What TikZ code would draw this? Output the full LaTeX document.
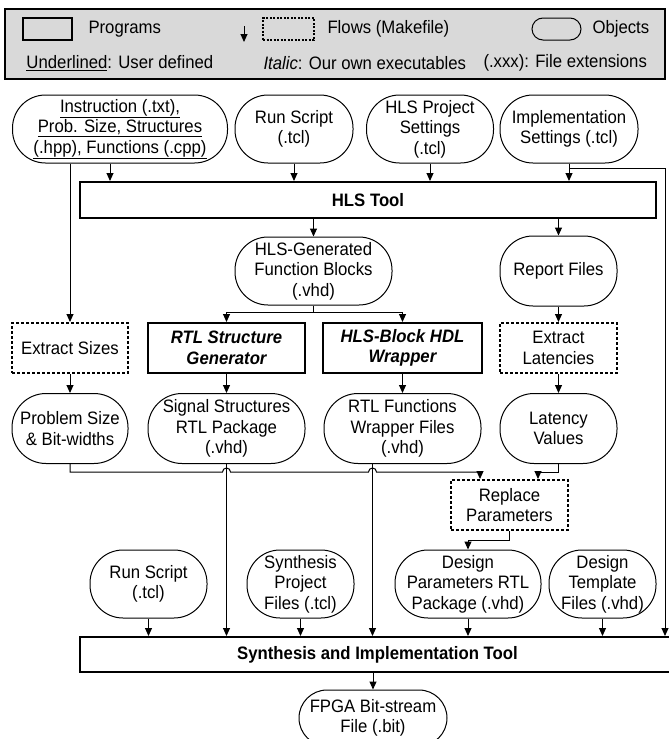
\documentclass[tikz,border=0pt]{standalone}
\usepackage{fontspec}
\setmainfont{Liberation Sans}[FakeStretch=0.93]
\usetikzlibrary{positioning, arrows.meta}

\begin{document}
\begin{tikzpicture}[x=1pt, y=1pt, line width=1pt,
    >={Triangle[length=8pt, width=7pt]},
    font=\fontsize{18}{20.6}\selectfont,
    obj/.style={draw, rounded corners=33pt, minimum height=68pt, inner sep=0pt, align=center},
    prog/.style={draw, line width=2pt, minimum height=50pt, inner sep=0pt, align=center,
        font=\fontsize{18}{20.6}\selectfont\bfseries\itshape},
    flow/.style={draw, line width=2pt, dash pattern=on 3pt off 2pt, minimum height=50pt,
        inner sep=0pt, align=center},
    tool/.style={draw, line width=2pt, inner sep=0pt, font=\fontsize{18}{20.6}\selectfont\bfseries},
    keytext/.style={anchor=west, inner sep=0pt}]
    \useasboundingbox (0,0) rectangle (669,-739);

    % legend
    \node [draw,
        fill=gray!30,
        line width=2pt,
        minimum width=660pt,
        minimum height=70pt
    ] (legend) at (335,-44) {};
    \node [draw, line width=1.5pt, minimum width=49pt, minimum height=22pt, inner sep=0pt]
        (progkey) at (47.5,-29) {};
    \node [keytext] (progtxt) at (88,-29) {Programs};
    \coordinate (flowtop) at (244,-26);
    \coordinate (flowbot) at (244,-42);
    \draw [->] (flowtop) -- (flowbot);
    \node [draw, line width=1.5pt, dash pattern=on 2pt off 1.5pt, minimum width=51pt,
        minimum height=22pt, inner sep=0pt] (flowkey) at (288.5,-29) {};
    \node [keytext] (flowtxt) at (327,-29) {Flows (Makefile)};
    \node [draw, rounded corners=11pt, minimum width=49pt, minimum height=22pt, inner sep=0pt]
        (objkey) at (556.5,-29) {};
    \node [keytext] (objtxt) at (592,-29) {Objects};
    \node [keytext] (usertxt) at (26,-63) {\underline{Underlined}: User defined};
    \node [keytext] (italtxt) at (263,-63) {\textit{Italic}: Our own executables};
    \node [keytext] (exttxt) at (483,-63) {(.xxx): File extensions};

    % inputs of the HLS tool
    \node [obj, minimum width=215pt] (instr) at (120,-129) {
        \underline{Instruction (.txt),}\\
        \underline{Prob. Size, Structures}\\
        \underline{(.hpp), Functions (.cpp)}
    };
    \node [obj, minimum width=118pt] (runhls) at (294,-129) {Run Script\\(.tcl)};
    \node [obj, minimum width=127pt] (hlsproj) at (430,-129) {HLS Project\\Settings\\(.tcl)};
    \node [obj, minimum width=138pt] (impl) at (569,-129) {Implementation\\Settings (.tcl)};

    \node [tool, minimum width=576pt, minimum height=36pt] (hls) at (368,-200) {HLS Tool};

    \node [obj, minimum width=157pt] (hlsgen) at (313.5,-271) {HLS-Generated\\Function Blocks\\(.vhd)};
    \node [obj, minimum width=117pt, minimum height=70pt] (report) at (558.5,-271) {Report Files};

    % programs and flows
    \node [flow, minimum width=116pt] (exsz) at (70,-348) {Extract Sizes};
    \node [prog, minimum width=157pt] (rtlgen) at (226.5,-348) {RTL Structure\\Generator};
    \node [prog, minimum width=159pt] (wrap) at (402.5,-348) {HLS-Block HDL\\Wrapper};
    \node [flow, minimum width=117pt] (exlat) at (558.5,-348) {Extract\\Latencies};

    \node [obj,
        minimum width=116pt,
        minimum height=70pt,
        rounded corners=34pt,
        below=19pt of exsz
    ] (probsz) {Problem Size\\\& Bit-widths};
    \node [obj,
        minimum width=157pt,
        minimum height=70pt,
        rounded corners=34pt,
        below=19pt of rtlgen
    ] (sigstr) {Signal Structures\\RTL Package\\(.vhd)};
    \node [obj,
        minimum width=157pt,
        minimum height=70pt,
        rounded corners=34pt,
        below=19pt of wrap
    ] (rtlfun) {RTL Functions\\Wrapper Files\\(.vhd)};
    \node [obj,
        minimum width=117pt,
        minimum height=70pt,
        rounded corners=34pt,
        below=19pt of exlat
    ] (latval) {Latency\\Values};

    \node [flow, minimum width=117pt] (repl) at (509.5,-505) {Replace\\Parameters};

    % inputs of the synthesis tool
    \node [obj, minimum width=117pt] (runsyn) at (148.5,-584) {Run Script\\(.tcl)};
    \node [obj, minimum width=107pt] (synproj) at (300.5,-584) {Synthesis\\Project\\Files (.tcl)};
    \node [obj, minimum width=146pt] (dparam) at (468,-584) {Design\\Parameters RTL\\Package (.vhd)};
    \node [obj, minimum width=107pt] (dtempl) at (602.5,-584) {Design\\Template\\Files (.vhd)};

    \node [tool, minimum width=595pt, minimum height=35pt] (synth) at (377.5,-654.5)
        {Synthesis and Implementation Tool};
    \node [obj, rounded corners=28pt, minimum width=148pt, minimum height=56pt] (fpga)
        at (373,-718) {FPGA Bit-stream\\File (.bit)};

    % arrows
    \coordinate (instrA) at ([xshift=-10pt]instr.south);
    \coordinate (instrB) at ([xshift=-50pt]instr.south);
    \coordinate (rtlfunA) at ([xshift=-30pt]rtlfun.south);
    \draw [->] (instrA) -- (instrA |- hls.north);
    \draw [->] (runhls.south) -- (runhls.south |- hls.north);
    \draw [->] (hlsproj.south) -- (hlsproj.south |- hls.north);
    \draw [->] (impl.south) -- (impl.south |- hls.north);
    \draw [->] (impl.south) -- ++(0,-5) -| ([xshift=-11pt]synth.north east);
    \draw [->] (instrB) -- (exsz);

    \draw [->] (hlsgen.north |- hls.south) -- (hlsgen.north);
    \draw [->] (report.north |- hls.south) -- (report.north);
    \draw (hlsgen.south) -- ++(0,-7) coordinate (split);
    \draw [->] (split) -| (rtlgen.north);
    \draw [->] (split) -| (wrap.north);
    \draw [->] (report) -- (exlat);

    \draw [->] (exsz) -- (probsz);
    \draw [->] (rtlgen) -- (sigstr);
    \draw [->] (wrap) -- (rtlfun);
    \draw [->] (exlat) -- (latval);

    % line hops over the two verticals
    \draw [->] (probsz.south) -- ++(0,-8)
        -- ([shift={(-4,-8)}]sigstr.south) arc[start angle=180, end angle=0, radius=4]
        -- ([shift={(-4,-8)}]rtlfunA) arc[start angle=180, end angle=0, radius=4]
        -| ([xshift=-29.5pt]repl.north);
    \draw [->] (latval.south) -- ++(0,-8) -| ([xshift=28.5pt]repl.north);
    \draw [->] (repl.south) -- ++(0,-9) -| (dparam.north);

    \draw [->] (sigstr.south) -- (sigstr.south |- synth.north);
    \draw [->] (rtlfunA) -- (rtlfunA |- synth.north);
    \draw [->] (runsyn.south) -- (runsyn.south |- synth.north);
    \draw [->] (synproj.south) -- (synproj.south |- synth.north);
    \draw [->] (dparam.south) -- (dparam.south |- synth.north);
    \draw [->] (dtempl.south) -- (dtempl.south |- synth.north);
    \draw [->] (fpga.north |- synth.south) -- (fpga.north);

\end{tikzpicture}
\end{document}
